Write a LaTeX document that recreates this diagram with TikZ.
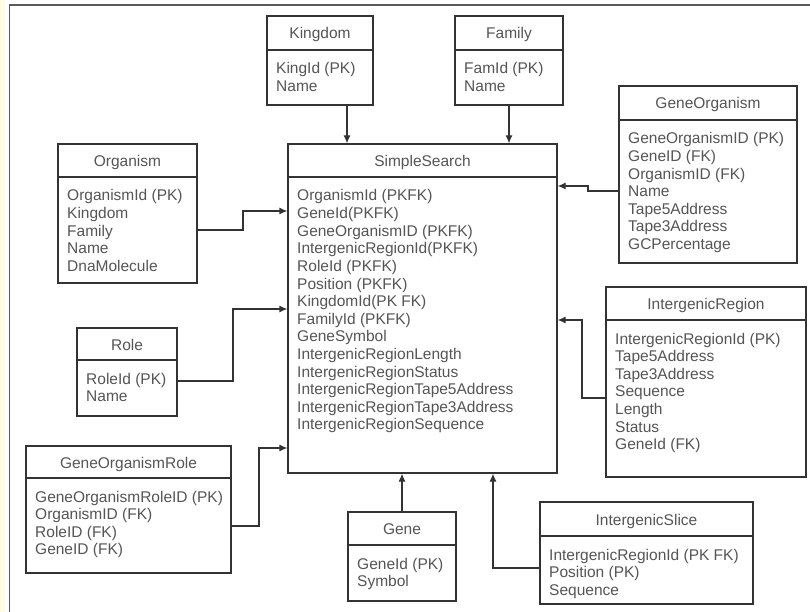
\documentclass[tikz,border=0pt]{standalone}
\usepackage{fontspec}
\setmainfont{Liberation Sans}
\usetikzlibrary{arrows.meta,fit}
\definecolor{txt}{HTML}{555555}
\definecolor{ln}{HTML}{333333}
\definecolor{frm}{HTML}{5A5A5A}
\definecolor{strip}{HTML}{FFFCE6}
\tikzset{
  ebox/.style={draw=ln, line width=1.2pt, inner sep=0pt, fill=white},
  divline/.style={draw=ln, line width=1.2pt},
  etitle/.style={text=txt, font=\fontsize{15.5}{17.6}\selectfont, inner sep=0pt, anchor=base},
  eattr/.style={text=txt, font=\fontsize{15.5}{17.6}\selectfont, inner sep=0pt, anchor=base west},
  conn/.style={draw=ln, line width=1.2pt, -{Latex[length=8pt,width=7pt]}},
}
% name, x1, y1, x2, y2, ydivider, title, rows
\newcommand\entity[8]{%
  \coordinate (#1-nw) at (#2,#3);
  \coordinate (#1-se) at (#4,#5);
  \node[ebox, fit=(#1-nw)(#1-se)] (#1) {};
  \draw[divline] (#2,#6) -- (#4,#6);
  \node[etitle] (#1-t) at ({(#2+#4)/2},{(#3+#6)/2+6}) {#7};
  \foreach \r [count=\i from 0] in {#8} {\node[eattr] (#1-a\i) at ({#2+9},{#6+24+\i*17.6}) {\r};}
}
\begin{document}
\begin{tikzpicture}[x=1pt,y=-1pt]
\useasboundingbox (0,0) rectangle (810,612);
\fill[white] (0,0) rectangle (810,612);
\fill[strip] (0,0) rectangle (5,612);
\draw[frm, line width=1.3pt] (9.5,612) -- (9.5,5) -- (810,5);

\entity{kingdom}{267}{16}{373}{105}{50}{Kingdom}{KingId (PK),Name}
\entity{family}{455}{16}{563}{105}{50}{Family}{FamId (PK),Name}
\entity{geneorg}{619}{86}{797}{263}{120}{GeneOrganism}{GeneOrganismID (PK),GeneID (FK),OrganismID (FK),Name,Tape5Address,Tape3Address,GCPercentage}
\entity{organism}{58}{144}{197}{283}{177}{Organism}{OrganismId (PK),Kingdom,Family,Name,DnaMolecule}
\entity{simple}{288}{144}{557}{473}{177}{SimpleSearch}{OrganismId (PKFK),GeneId(PKFK),GeneOrganismID (PKFK),IntergenicRegionId(PKFK),RoleId (PKFK),Position (PKFK),KingdomId(PK FK),FamilyId (PKFK),GeneSymbol,IntergenicRegionLength,IntergenicRegionStatus,IntergenicRegionTape5Address,IntergenicRegionTape3Address,IntergenicRegionSequence}
\entity{role}{77}{328}{177}{416}{360}{Role}{RoleId (PK),Name}
\entity{ir}{606}{287}{806}{477}{320}{IntergenicRegion}{IntergenicRegionId (PK),Tape5Address,Tape3Address,Sequence,Length,Status,GeneId (FK)}
\entity{gor}{26}{446}{231}{573}{478}{GeneOrganismRole}{GeneOrganismRoleID (PK),OrganismID (FK),RoleID (FK),GeneID (FK)}
\entity{gene}{348}{512}{456}{601}{545}{Gene}{GeneId (PK),Symbol}
\entity{slice}{540}{502}{753}{604}{536}{IntergenicSlice}{IntergenicRegionId (PK FK),Position (PK),Sequence}

\coordinate (kx) at (347,0);
\draw[conn] (kingdom.south -| kx) -- (simple.north -| kx);
\draw[conn] (family.south) -- (family.south |- simple.north);
\coordinate (o1) at (0,230); \coordinate (o2) at (243,211);
\draw[conn] (organism.east |- o1) -| (o2) -- (simple.west |- o2);
\coordinate (r1) at (0,381); \coordinate (r2) at (233,309);
\draw[conn] (role.east |- r1) -| (r2) -- (simple.west |- r2);
\coordinate (g1) at (0,526); \coordinate (g2) at (259,448);
\draw[conn] (gor.east |- g1) -| (g2) -- (simple.west |- g2);
\coordinate (q1) at (0,191); \coordinate (q2) at (588,186);
\draw[conn] (geneorg.west |- q1) -| (q2) -- (simple.east |- q2);
\coordinate (i1) at (0,398); \coordinate (i2) at (582,320);
\draw[conn] (ir.west |- i1) -| (i2) -- (simple.east |- i2);
\draw[conn] (gene.north) -- (gene.north |- simple.south);
\coordinate (s1) at (0,568); \coordinate (s2) at (493,0);
\draw[conn] (slice.west |- s1) -| (s2 |- simple.south);
\end{tikzpicture}
\end{document}
